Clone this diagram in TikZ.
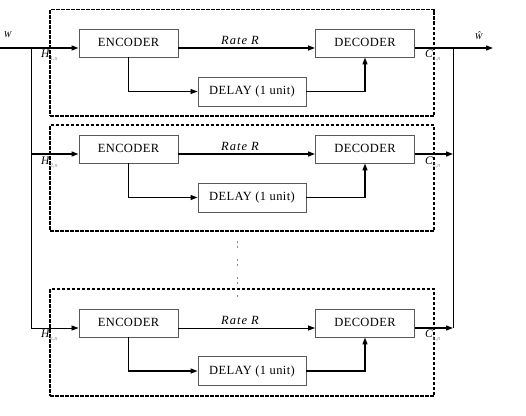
\documentclass[tikz,border=0pt]{standalone}
\usepackage{fontspec}
\setmainfont{Liberation Serif}
\usetikzlibrary{arrows.meta,calc}
\newcommand{\sublbl}[2]{\textit{#1}\raisebox{-3pt}{\fontsize{6}{7}\selectfont\color{black!45}#2,\textit{n}}}
\newcommand{\bt}[1]{\raisebox{1.5pt}{\addfontfeature{LetterSpace=3}#1}}
\begin{document}
\begin{tikzpicture}[x=1pt,y=-1pt,
  blk/.style={draw=black!65, line width=0.9pt, minimum width=99pt, minimum height=28pt,
    inner sep=0pt, font=\fontsize{12.5}{14}\selectfont},
  dly/.style={blk, minimum width=108pt, minimum height=29pt},
  grp/.style={draw, line width=1.2pt, dash pattern=on 3.5pt off 1.5pt,
    minimum width=384pt, inner sep=0pt},
  thk/.style={line width=1.4pt},
  thn/.style={line width=0.8pt},
  arr/.style={-{Triangle[length=7pt,width=5pt]}},
  lbl/.style={inner sep=0pt, font=\fontsize{11.5}{13}\selectfont},
  small/.style={inner sep=0pt, font=\fontsize{9}{10}\selectfont},
  rate/.style={inner sep=0pt, font=\fontsize{12.5}{14}\selectfont\itshape\addfontfeature{LetterSpace=8}},
]
\useasboundingbox (0,0) rectangle (526,415);

% dashed groups
\node[grp, minimum height=106.5pt] (g1) at (242,62.75) {};
\node[grp, minimum height=106pt] (g2) at (242,178) {};
\node[grp, minimum height=107pt] (g3) at (242,342.5) {};

% blocks
\node[blk] (e1) at (128.5,43) {\bt{ENCODER}};
\node[blk] (d1) at (365,43) {\bt{DECODER}};
\node[dly] (l1) at (252,91.5) {\bt{DELAY (1 unit)}};

\node[blk] (e2) at (128.5,149) {\bt{ENCODER}};
\node[blk] (d2) at (365,149) {\bt{DECODER}};
\node[dly] (l2) at (252,197.5) {\bt{DELAY (1 unit)}};

\node[blk] (e3) at (128.5,323) {\bt{ENCODER}};
\node[blk] (d3) at (365,323) {\bt{DECODER}};
\node[dly] (l3) at (252,371) {\bt{DELAY (1 unit)}};

% coordinates
\coordinate (w1) at (0,48);
\coordinate (j1) at (31,48);
\coordinate (j2) at (31,154);
\coordinate (j3) at (31,328);
\coordinate (o1) at (493,48);
\coordinate (r1) at (453,48);
\coordinate (r2) at (453,154);
\coordinate (r3) at (453,328);

% bus lines
\draw[thn] (j1) -- (j3);
\draw[thn] (r1) -- (r3);

% group 1
\draw[thk,arr] (w1) -- ($(e1.west)+(0,5)$);
\draw[thk,arr] ($(e1.east)+(0,5)$) -- ($(d1.west)+(0,5)$);
\coordinate (k1) at (e1.south |- l1.west);
\coordinate (m1) at (d1.south |- l1.east);
\draw[thk] (e1.south) -- (k1);
\draw[thn,arr] (k1) -- (l1.west);
\draw[thn] (l1.east) -- (m1);
\draw[thk,arr] (m1) -- (d1.south);
\draw[thk,arr] ($(d1.east)+(0,5)$) -- (o1);

% group 2
\draw[thk,arr] (j2) -- ($(e2.west)+(0,5)$);
\draw[thk,arr] ($(e2.east)+(0,5)$) -- ($(d2.west)+(0,5)$);
\coordinate (k2) at (e2.south |- l2.west);
\coordinate (m2) at (d2.south |- l2.east);
\draw[thk,arr] (e2.south) -- (k2) -- (l2.west);
\draw[thk,arr] (l2.east) -- (m2) -- (d2.south);
\draw[thk,arr] ($(d2.east)+(0,5)$) -- (r2);

% group 3
\draw[thn,arr] (j3) -- ($(e3.west)+(0,5)$);
\draw[thn,arr] ($(e3.east)+(0,5)$) -- ($(d3.west)+(0,5)$);
\coordinate (k3) at (e3.south |- l3.west);
\coordinate (m3) at (d3.south |- l3.east);
\draw[thk,arr] (e3.south) -- (k3) -- (l3.west);
\draw[thk,arr] (l3.east) -- (m3) -- (d3.south);
\draw[thk,arr] ($(d3.east)+(0,5)$) -- (r3);

% labels
\node[small] (wl) at (8,35) {\textit{W}};
\node[small] (wh) at (479,36) {\textit{Ŵ}};
\node[rate] (rt1) at (240,40) {Rate R};
\node[rate] (rt2) at (240,146) {Rate R};
\node[rate] (rt3) at (240,320) {Rate R};
\node[lbl, anchor=west] (h1) at (41,56) {\sublbl{H}{1}};
\node[lbl, anchor=west] (h2) at (41,163) {\sublbl{H}{2}};
\node[lbl, anchor=west] (h3) at (41,336) {\sublbl{H}{k}};
\node[lbl, anchor=west] (c1) at (425,56) {\sublbl{C}{1}};
\node[lbl, anchor=west] (c2) at (425,163) {\sublbl{C}{2}};
\node[lbl, anchor=west] (c3) at (425,336) {\sublbl{C}{k}};

% vertical dots
\coordinate (v1) at (237,241);
\coordinate (v2) at (237,299);
\draw[black!45, line width=1pt, dash pattern=on 1.5pt off 3.5pt on 1.5pt off 11.5pt] (v1) -- (v2);
\end{tikzpicture}
\end{document}
